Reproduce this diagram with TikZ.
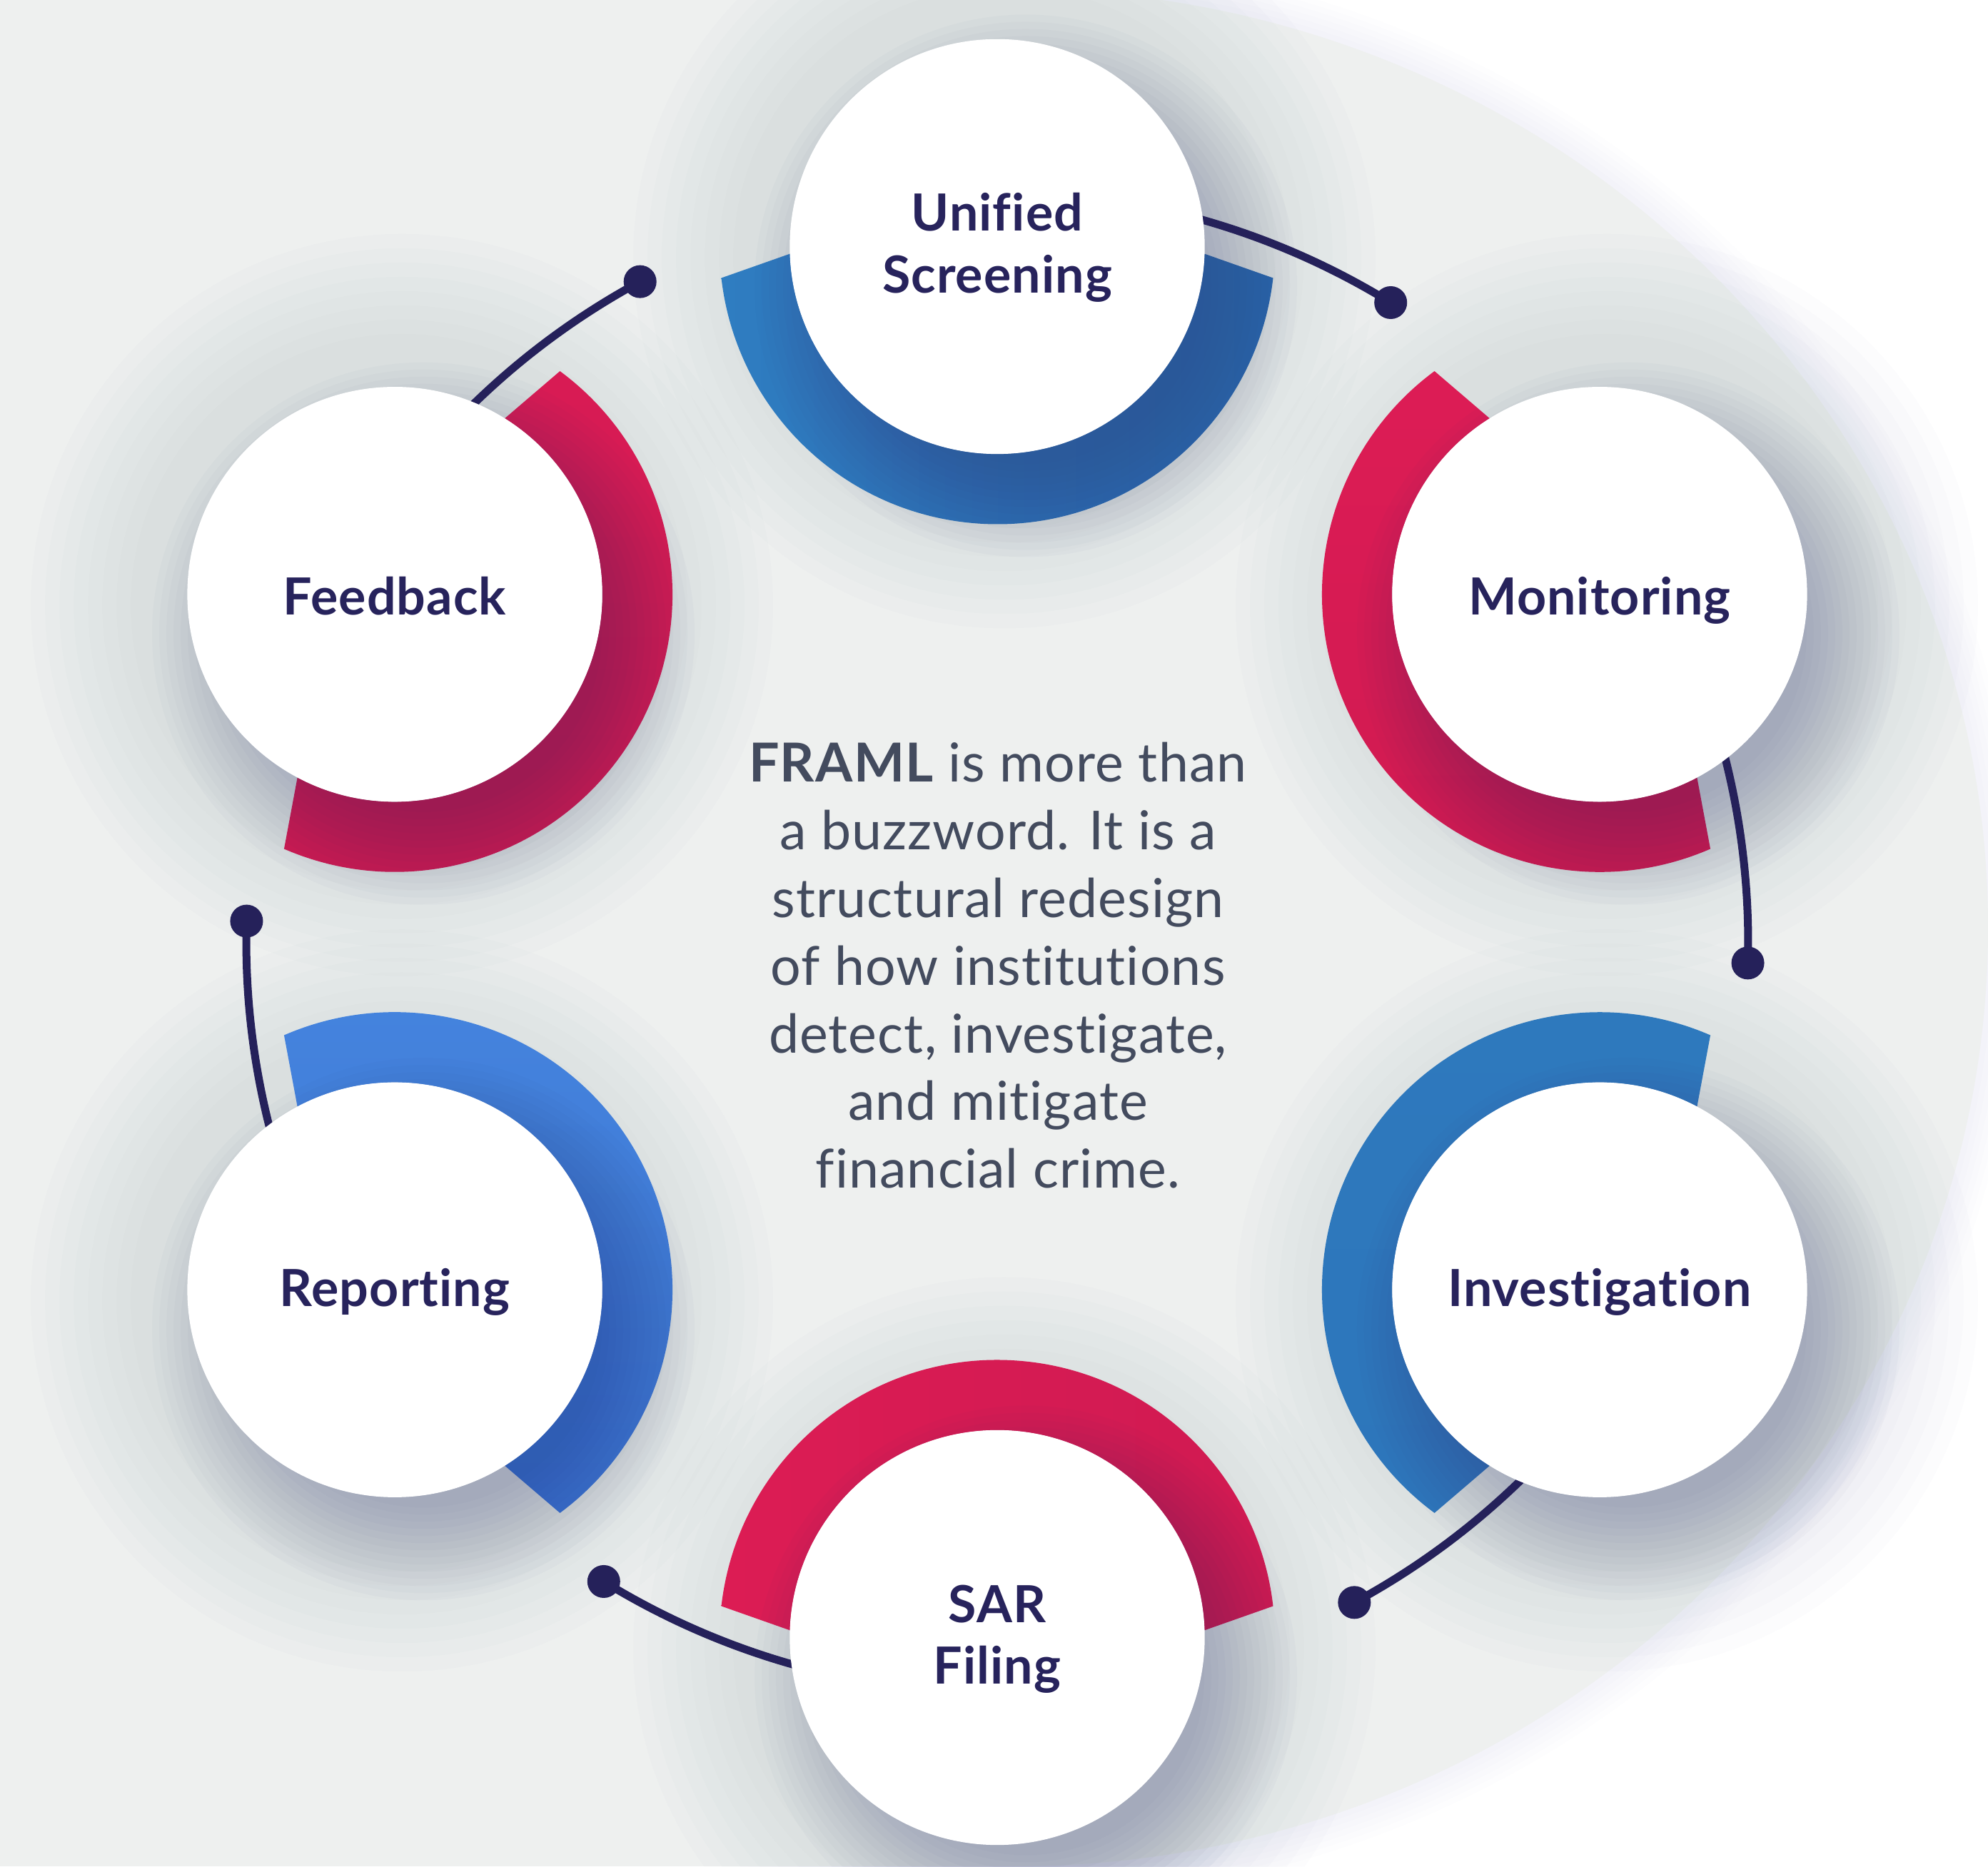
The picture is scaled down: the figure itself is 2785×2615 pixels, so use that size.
\documentclass[tikz,border=0pt]{standalone}
\usepackage{fontspec}
\setmainfont{Lato}[Ligatures=NoCommon]
\usetikzlibrary{calc}

\definecolor{bggrey}{HTML}{EEF0EF}
\definecolor{halo}{HTML}{C8D0EC}
\definecolor{hazecol}{HTML}{3A4585}
\definecolor{shadowcol}{HTML}{2E3674}
\definecolor{labelnavy}{HTML}{27235C}
\definecolor{bodygrey}{HTML}{434B5E}
\definecolor{linknavy}{HTML}{25215A}
\definecolor{bandUa}{HTML}{2F7DC1}
\definecolor{bandUb}{HTML}{2868AD}
\definecolor{bandMa}{HTML}{DD1C55}
\definecolor{bandMb}{HTML}{CF1A51}
\definecolor{bandIa}{HTML}{2E79BD}
\definecolor{bandIb}{HTML}{2D76BB}
\definecolor{bandSa}{HTML}{DC1C54}
\definecolor{bandSb}{HTML}{D01A52}
\definecolor{bandRa}{HTML}{4584DE}
\definecolor{bandRb}{HTML}{3C74D2}
\definecolor{bandFa}{HTML}{D81B54}
\definecolor{bandFb}{HTML}{D01A52}

\begin{document}
\begin{tikzpicture}[x=0.01cm, y=0.01cm,
  disc/.style={circle, fill=white, minimum size=5.81cm, inner sep=0pt},
  lbl/.style={anchor=base, text=labelnavy,
    font=\fontsize{20.4}{24}\selectfont\bfseries\addfontfeatures{LetterSpace=1.5}},
  body/.style={anchor=base, text=bodygrey,
    font=\fontsize{21.4}{24}\selectfont\addfontfeatures{LetterSpace=1.5}},
  conn/.style={draw=linknavy, line width=0.11cm},
  knob/.style={circle, fill=linknavy, minimum size=0.46cm, inner sep=0pt},
]
\useasboundingbox (0,0) rectangle (2785,2615);
\fill[white] (0,0) rectangle (2785,2615);

% backdrop: grey panel with a rounded right side
\begin{scope}
  \clip (0,0) rectangle (2785,2615);
  \foreach \k in {1,...,6}
    \fill[halo, opacity=0.03] (1420,1315) ellipse [x radius={1365+8*\k}, y radius={1315+8*\k}];
  \fill[bggrey] (1420,1315) ellipse [x radius=1365, y radius=1315];
  \fill[bggrey] (0,0) rectangle (1420,2615);
\end{scope}

% hub of the cycle and the six stage positions
\coordinate (O) at (1397,1295);
\foreach \nm/\ang in {U/90, M/30, I/-30, S/-90, R/-150, F/150}
  \coordinate (p\nm) at ([shift={(\ang:974.5)}]O);

% faint wide haze around each stage
\foreach \nm in {U,M,I,S,R,F}
  \foreach \r in {380,400,...,520}
    \fill[hazecol, opacity=0.012] ([shift={(10,-15)}]p\nm) circle (\r);

% coloured half rings facing the hub
\foreach \nm/\ang/\ca/\cb/\sa in {U/90/bandUa/bandUb/90, M/30/bandMa/bandMb/0,
    I/-30/bandIa/bandIb/0, S/-90/bandSa/bandSb/90, R/-150/bandRa/bandRb/0,
    F/150/bandFa/bandFb/0} {
  \pgfmathsetmacro\oa{\ang+180+83.5}
  \pgfmathsetmacro\ob{\ang+180-83.5}
  \pgfmathsetmacro\ia{\ang+180-88}
  \pgfmathsetmacro\ib{\ang+180+88}
  \shade[top color=\ca, bottom color=\cb, shading angle=\sa]
    ([shift={(\oa:389)}]p\nm) arc[start angle=\oa, end angle=\ob, radius=389]
    -- ([shift={(\ia:290.5)}]p\nm) arc[start angle=\ia, end angle=\ib, radius=290.5]
    -- cycle;
}

% soft drop shadow under each white disc
\foreach \nm in {U,M,I,S,R,F}
  \foreach \r in {250,260,...,380}
    \fill[shadowcol, opacity=0.025] ([shift={(40,-55)}]p\nm) circle (\r);

% connectors: arcs on the outer ring ending in a knob
\foreach \nm/\ang in {U/90, M/30, I/-30, S/-90, R/-150, F/150} {
  \pgfmathsetmacro\endang{\ang-31.6}
  \node[knob] (k\nm) at ([shift={(\endang:1052)}]O) {};
  \draw[conn] ([shift={(\ang:1052)}]O) arc[start angle=\ang, end angle=\endang, radius=1052];
}

% white stage discs
\foreach \nm in {U,M,I,S,R,F}
  \node[disc] (\nm) at (p\nm) {};

% stage labels
\node[lbl] (tU1) at ([shift={(0,22)}]U.center) {Unified};
\node[lbl] (tU2) at ([shift={(0,-65)}]U.center) {Screening};
\node[lbl] (tM) at ([shift={(0,-29)}]M.center) {Monitoring};
\node[lbl] (tI) at ([shift={(0,-23)}]I.center) {Investigation};
\node[lbl] (tS1) at ([shift={(0,21)}]S.center) {SAR};
\node[lbl] (tS2) at ([shift={(0,-65.5)}]S.center) {Filing};
\node[lbl] (tR) at ([shift={(0,-23)}]R.center) {Reporting};
\node[lbl] (tF) at ([shift={(0,-29)}]F.center) {Feedback};

% central statement
\node[body] (c1) at (1398,1519) {\textbf{FRAML} is more than};
\node[body] (c2) at (1398,1424.2) {a buzzword. It is a};
\node[body] (c3) at (1398,1329.4) {structural redesign};
\node[body] (c4) at (1398,1234.6) {of how institutions};
\node[body] (c5) at (1398,1139.8) {detect, investigate,};
\node[body] (c6) at (1398,1045) {and mitigate};
\node[body] (c7) at (1398,950.2) {financial crime.};
\end{tikzpicture}
\end{document}
